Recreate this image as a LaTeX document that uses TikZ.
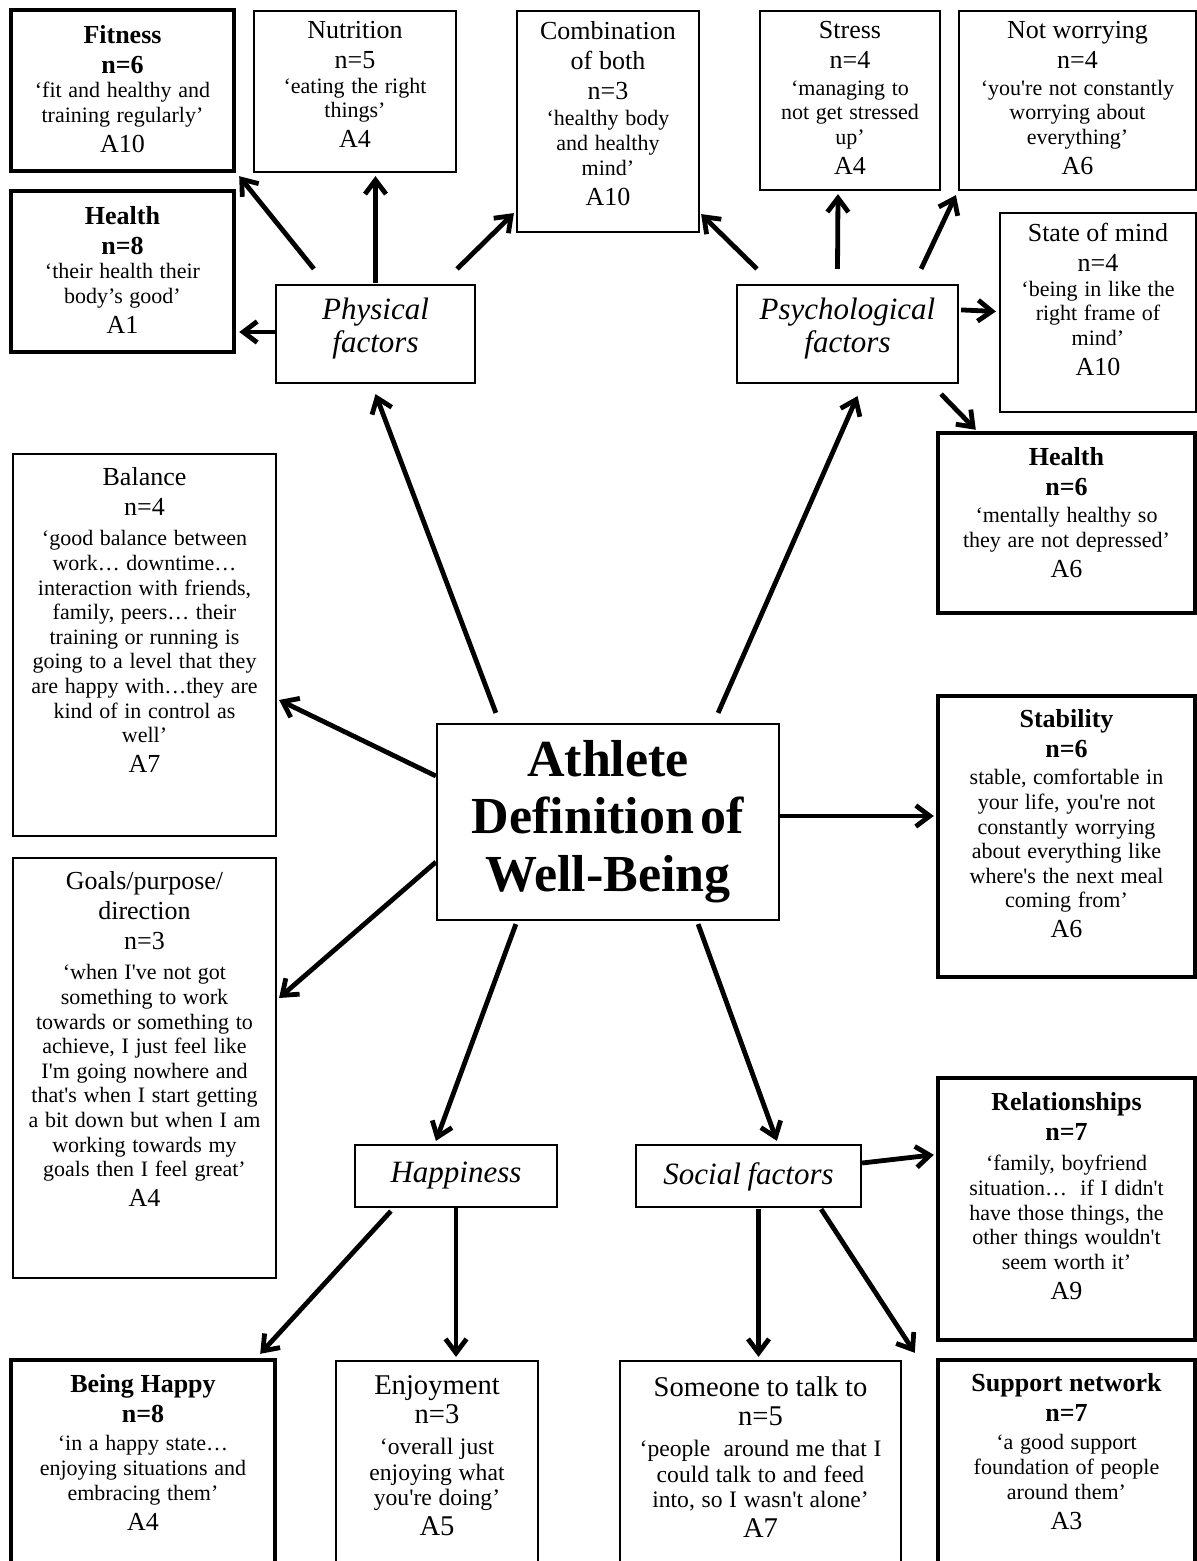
\documentclass[tikz,border=0pt]{standalone}
\usepackage{fontspec}
\setmainfont{Liberation Serif}
\usetikzlibrary{arrows.meta,calc}
\setlength\parindent{0pt}

% font sizes for the box texts
\newcommand\ttlf{\fontsize{13}{15}\selectfont}
\newcommand\qtf{\fontsize{11}{12.3}\selectfont}
\newcommand\ettf{\fontsize{14.3}{14.5}\selectfont}
\newcommand\eqf{\fontsize{11.8}{12.75}\selectfont}
\newcommand\eatf{\fontsize{14.3}{15}\selectfont}
\newcommand\labf{\fontsize{15.5}{16.5}\selectfont\itshape}
\newcommand\ctrf{\fontsize{26}{28.7}\selectfont\bfseries}
\newcommand\sap{\textquotesingle}

% box: name, x1, y1, x2, y2, style, text offset from top, text
\newcommand\cbox[8]{%
  \pgfmathsetmacro\cbW{(#4-#2)*0.5}%
  \pgfmathsetmacro\cbH{(#5-#3)*0.5}%
  \pgfmathsetmacro\cbT{(#4-#2)*0.5-3}%
  \node[#6, minimum width=\cbW pt, minimum height=\cbH pt] (#1) at ({(#2+#4)/2},{(#3+#5)/2}) {};
  \node[txt, text width=\cbT pt, anchor=north] (#1-t) at ($(#1.north)+(0,#7)$) {#8};
}

\begin{document}
\begin{tikzpicture}[x=0.5pt,y=-0.5pt,
  thinbox/.style={draw, line width=1.1pt, rectangle, inner sep=0pt},
  thickbox/.style={draw, line width=2.2pt, rectangle, inner sep=0pt},
  txt/.style={align=center, inner sep=0pt},
  arr/.style={line width=2.4pt, line join=round, -{Straight Barb[length=7pt,width=10.5pt]}}]

\fill[white] (0,0) rectangle (1197,1561);
\useasboundingbox (0,0) rectangle (1197,1561);

% physical factors branch
\cbox{fit}{11}{10}{234}{171}{thickbox}{17}{%
  {\ttlf\bfseries Fitness\\n=6\par}{\qtf ‘fit and healthy and\\training regularly’\par}{\ttlf A10\par}}
\cbox{hl}{11}{191}{234}{352}{thickbox}{17}{%
  {\ttlf\bfseries Health\\n=8\par}{\qtf ‘their health their\\body’s good’\par}{\ttlf A1\par}}
\cbox{nut}{254}{11}{456}{172}{thinbox}{11}{%
  {\ttlf Nutrition\\n=5\par}{\qtf ‘eating the right\\things’\par}{\ttlf A4\par}}
\cbox{phys}{276}{285}{475}{383}{thinbox}{14}{{\labf Physical\\factors\par}}
\cbox{comb}{517}{11}{699}{232}{thinbox}{11}{%
  {\ttlf Combination\\of both\\n=3\par}{\qtf\vspace{1pt}‘healthy body\\and healthy\\mind’\par}{\ttlf A10\par}}

% psychological factors branch
\cbox{str}{760}{11}{940}{190}{thinbox}{11}{%
  {\ttlf Stress\\n=4\par}{\qtf\vspace{1pt}‘managing to\\not get stressed\\up’\par}{\ttlf A4\par}}
\cbox{worry}{959}{11}{1196}{190}{thinbox}{11}{%
  {\ttlf Not worrying\\n=4\par}{\qtf\vspace{1pt}‘you\sap re not constantly\\worrying about\\everything’\par}{\ttlf A6\par}}
\cbox{som}{1000}{213}{1196}{412}{thinbox}{11}{%
  {\ttlf State of mind\\n=4\par}{\qtf ‘being in like the\\right frame of\\mind’\par}{\ttlf A10\par}}
\cbox{psych}{737}{285}{958}{383}{thinbox}{14}{{\labf Psychological\\factors\par}}
\cbox{hr}{938}{433}{1195}{613}{thickbox}{16}{%
  {\ttlf\bfseries Health\\n=6\par}{\qtf\vspace{1.5pt}‘mentally healthy so\\they are not depressed’\par}{\ttlf A6\par}}

% left column
\cbox{bal}{13}{454}{276}{836}{thinbox}{14}{%
  {\ttlf Balance\\n=4\par}{\qtf\vspace{3pt}‘good balance between\\work… downtime…\\interaction with friends,\\family, peers… their\\training or running is\\going to a level that they\\are happy with…they are\\kind of in control as\\well’\par}{\ttlf A7\par}}
\cbox{goal}{13}{858}{276}{1278}{thinbox}{14}{%
  {\ttlf Goals/purpose/\\direction\\n=3\par}{\qtf\vspace{3pt}‘when I\sap ve not got\\something to work\\towards or something to\\achieve, I just feel like\\I\sap m going nowhere and\\that\sap s when I start getting\\a bit down but when I am\\working towards my\\goals then I feel great’\par}{\ttlf A4\par}}

% centre
\cbox{cen}{437}{724}{779}{920}{thinbox}{17}{{\ctrf Athlete\\Definition of\\Well-Being\par}}

% right column
\cbox{stab}{938}{696}{1195}{977}{thickbox}{15}{%
  {\ttlf\bfseries Stability\\n=6\par}{\qtf\vspace{1.5pt}stable, comfortable in\\your life, you\sap re not\\constantly worrying\\about everything like\\where\sap s the next meal\\coming from’\par}{\ttlf A6\par}}
\cbox{rel}{938}{1078}{1195}{1340}{thickbox}{16}{%
  {\ttlf\bfseries Relationships\\n=7\par}{\qtf\vspace{3pt}‘family, boyfriend\\situation…\ \ if I didn\sap t\\have those things, the\\other things wouldn\sap t\\seem worth it’\par}{\ttlf A9\par}}

% happiness and social factors
\cbox{hap}{355}{1145}{557}{1207}{thinbox}{18}{{\labf Happiness\par}}
\cbox{soc}{636}{1145}{861}{1207}{thinbox}{18}{{\labf Social factors\par}}

% bottom row
\cbox{bh}{11}{1360}{275}{1564}{thickbox}{16}{%
  {\ttlf\bfseries Being Happy\\n=8\par}{\qtf\vspace{2pt}‘in a happy state…\\enjoying situations and\\embracing them’\par}{\ttlf A4\par}}
\cbox{enj}{336}{1361}{538}{1564}{thinbox}{15}{%
  {\ettf Enjoyment\\n=3\par}{\eqf\vspace{3pt}‘overall just\\enjoying what\\you\sap re doing’\par}{\eatf A5\par}}
\cbox{some}{620}{1361}{901}{1564}{thinbox}{16}{%
  {\ettf Someone to talk to\\n=5\par}{\eqf\vspace{3pt}‘people\ \ around me that I\\could talk to and feed\\into, so I wasn\sap t alone’\par}{\eatf A7\par}}
\cbox{sup}{938}{1360}{1195}{1564}{thickbox}{15}{%
  {\ttlf\bfseries Support network\\n=7\par}{\qtf\vspace{2pt}‘a good support\\foundation of people\\around them’\par}{\ttlf A3\par}}

% connectors from Physical factors
\draw[arr] ($(phys.north west)+(39,-15)$) -- ($(fit.south east)+(3,3)$);
\draw[arr] ($(phys.north)+(0,-1)$) -- ($(phys.north |- nut.south)+(0,3)$);
\draw[arr] ($(phys.north east)+(-19,-15)$) -- ($(comb.south west)+(-2,-20)$);
\draw[arr] ($(phys.west)+(0,-2)$) -- ($(phys.west -| hl.east)+(3,-2)$);

% connectors from Psychological factors
\draw[arr] ($(psych.north west)+(21,-15)$) -- ($(comb.south east)+(1,-19)$);
\draw[arr] ($(psych.north)+(-10,-15)$) -- ($(str.south)+(-12,3)$);
\draw[arr] ($(psych.north east)+(-38,-15)$) -- ($(worry.south west)+(-2,4)$);
\draw[arr] ($(psych.north east)+(2,26)$) -- ($(som.west)+(-3,-1)$);
\draw[arr] ($(psych.south east)+(-18,10)$) -- ($(hr.north west)+(40,-1)$);

% connectors from the centre
\draw[arr] ($(cen.north west)+(60,-10)$) -- ($(phys.south)+(0,10)$);
\draw[arr] ($(cen.north east)+(-62,-10)$) -- ($(psych.south)+(10,12)$);
\draw[arr] ($(cen.west)+(0,-46)$) -- ($(bal.east)+(2,55)$);
\draw[arr] ($(cen.west)+(0,40)$) -- ($(goal.east)+(2,-70)$);
\draw[arr] ($(cen.east)+(0,-6)$) -- ($(cen.east -| stab.west)+(-2,-6)$);
\draw[arr] ($(cen.south west)+(80,3)$) -- ($(hap.north west)+(82,-3)$);
\draw[arr] ($(cen.south east)+(-82,3)$) -- ($(soc.north west)+(142,-3)$);

% connectors from Happiness
\draw[arr] ($(hap.south west)+(37,3)$) -- ($(bh.north east)+(-17,-4)$);
\draw[arr] (hap.south) -- ($(hap.south |- enj.north)+(0,-3)$);

% connectors from Social factors
\draw[arr] ($(soc.east)+(0,-13)$) -- ($(rel.north west)+(-2,79)$);
\draw[arr] ($(soc.south)+(10,1)$) -- ($(some.north)+(-2,-3)$);
\draw[arr] ($(soc.south east)+(-41,1)$) -- ($(sup.north west)+(-21,-5)$);
\end{tikzpicture}
\end{document}
